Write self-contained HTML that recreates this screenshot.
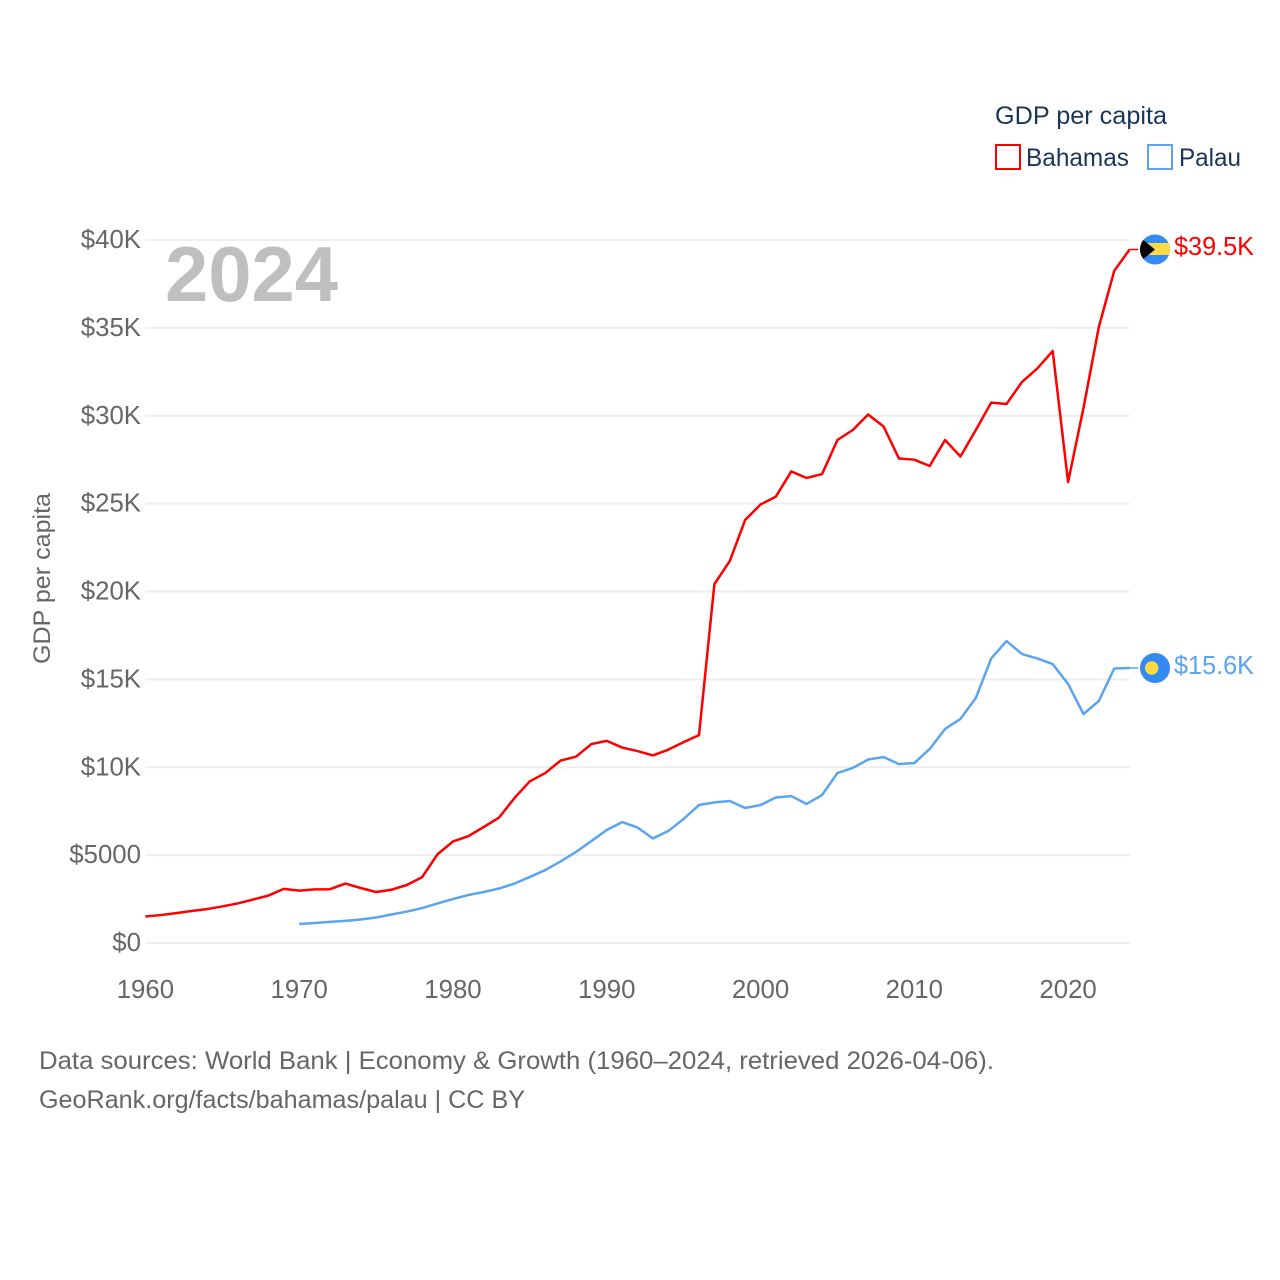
<!DOCTYPE html>
<html lang="en">
<head>
<meta charset="utf-8">
<title>GDP per capita: Bahamas and Palau</title>
<style>
html,body{margin:0;padding:0;background:#fff}
svg{display:block}
text{font-family:"Liberation Sans",sans-serif}
</style>
</head>
<body>
<svg id="chart" xmlns="http://www.w3.org/2000/svg" width="1280" height="1280" viewBox="0 0 1280 1280">
  <defs>
    <clipPath id="flag-clip-a"><circle cx="1155" cy="249.5" r="15"/></clipPath>
  </defs>
  <g id="grid"></g>
  <g id="y-ticks"></g>
  <g id="x-ticks"></g>
  <text transform="translate(50,664) rotate(-90)" font-size="24" fill="#666" textLength="171" lengthAdjust="spacingAndGlyphs">GDP per capita</text>
  <text x="165" y="301" font-size="78" font-weight="700" fill="#bfbfbf" textLength="173" lengthAdjust="spacingAndGlyphs">2024</text>

  <g>
    <text x="995" y="124" font-size="25" fill="#1a3557" textLength="172" lengthAdjust="spacingAndGlyphs">GDP per capita</text>
    <g>
      <rect x="996" y="145" width="24" height="24" fill="#fff" stroke="#ff0000" stroke-width="2"/>
      <text x="1026" y="166" font-size="25" fill="#1a3557" textLength="103" lengthAdjust="spacingAndGlyphs">Bahamas</text>
    </g>
    <g>
      <rect x="1148" y="145" width="24" height="24" fill="#fff" stroke="#5ba4ee" stroke-width="2"/>
      <text x="1179" y="166" font-size="25" fill="#1a3557" textLength="62" lengthAdjust="spacingAndGlyphs">Palau</text>
    </g>
  </g>

  <g id="series"></g>

  <g clip-path="url(#flag-clip-a)">
    <rect x="1140" y="234" width="30" height="31" fill="#338af3"/>
    <rect x="1140" y="243" width="30" height="12" fill="#ffda44"/>
    <polygon points="1136,234 1155,249.5 1136,265" fill="#000"/>
  </g>
  <text id="label-a" x="1174" y="255" font-size="25.5" fill="#ff0000" textLength="80" lengthAdjust="spacingAndGlyphs"></text>

  <g>
    <circle cx="1155" cy="668" r="15" fill="#338af3"/>
    <circle cx="1151.7" cy="668" r="6.7" fill="#ffda44"/>
  </g>
  <text id="label-b" x="1174" y="674" font-size="25.5" fill="#5ba4ee" textLength="80" lengthAdjust="spacingAndGlyphs"></text>

  <text x="39" y="1069" font-size="25" fill="#666" textLength="955" lengthAdjust="spacingAndGlyphs">Data sources: World Bank | Economy &amp; Growth (1960–2024, retrieved 2026-04-06).</text>
  <text x="39" y="1108" font-size="25" fill="#666" textLength="486" lengthAdjust="spacingAndGlyphs">GeoRank.org/facts/bahamas/palau | CC BY</text>
</svg>
<script>
const bahamasStartYear = 1960;
const palauStartYear = 1970;
const bahamasValues = [1.51,1.59,1.70,1.82,1.93,2.08,2.25,2.47,2.70,3.08,2.98,3.05,3.06,3.38,3.13,2.90,3.03,3.30,3.75,5.05,5.78,6.08,6.60,7.14,8.25,9.20,9.67,10.38,10.60,11.32,11.50,11.12,10.92,10.67,11.00,11.43,11.83,20.42,21.73,24.07,24.95,25.40,26.83,26.46,26.68,28.62,29.19,30.07,29.39,27.57,27.50,27.14,28.62,27.68,29.19,30.75,30.67,31.92,32.69,33.68,26.23,30.44,35.05,38.24,39.46];
const palauValues = [1.08,1.14,1.20,1.26,1.34,1.45,1.62,1.79,1.99,2.25,2.50,2.73,2.90,3.10,3.38,3.76,4.15,4.64,5.18,5.80,6.43,6.88,6.57,5.95,6.37,7.06,7.85,8.00,8.08,7.68,7.85,8.28,8.36,7.91,8.42,9.67,9.96,10.44,10.58,10.18,10.24,11.04,12.18,12.75,13.94,16.19,17.18,16.44,16.19,15.87,14.74,13.03,13.77,15.62,15.65];
const yTickValues = [0,5,10,15,20,25,30,35,40];
const yTickLabels = ["$0","$5000","$10K","$15K","$20K","$25K","$30K","$35K","$40K"];
const xTickYears = [1960,1970,1980,1990,2000,2010,2020];
const bahamasEndLabel = "$39.5K";
const palauEndLabel = "$15.6K";

const NS = "http://www.w3.org/2000/svg";
function xScale(year){ return 145.4 + (year - 1960) * (1129.6 - 145.4) / 64; }
function yScale(v){ return 943 - v * (943 - 240) / 40; }
function make(tag, attrs){
  const el = document.createElementNS(NS, tag);
  for (const k in attrs) el.setAttribute(k, attrs[k]);
  return el;
}
const grid = document.getElementById("grid");
const yTicks = document.getElementById("y-ticks");
const xTicks = document.getElementById("x-ticks");
const series = document.getElementById("series");

yTickValues.forEach(function(v, i){
  const line = make("line", {x1:xScale(1960), x2:xScale(2024), y1:yScale(v), y2:yScale(v), stroke:"#eeeeee", "stroke-width":2});
  
  
  grid.appendChild(line);
  const t = make("text", {x:141, y:yScale(v)+8, "text-anchor":"end", "font-size":25.8, fill:"#666"});
  
  
  t.textContent = yTickLabels[i];
  yTicks.appendChild(t);
});
xTickYears.forEach(function(y){
  const t = make("text", {x:xScale(y), y:998, "text-anchor":"middle", "font-size":25.8, fill:"#666"});
  
  
  t.textContent = String(y);
  xTicks.appendChild(t);
});
function seriesPoints(values, startYear){
  return values.map(function(v, i){ return xScale(startYear + i).toFixed(2) + "," + yScale(v).toFixed(2); }).join(" ");
}
const palauLine = make("polyline", {points:seriesPoints(palauValues, palauStartYear), fill:"none", stroke:"#5ba4ee", "stroke-width":2.5, "stroke-linejoin":"round"});


series.appendChild(palauLine);
const bahamasLine = make("polyline", {points:seriesPoints(bahamasValues, bahamasStartYear), fill:"none", stroke:"#ff0000", "stroke-width":2.5, "stroke-linejoin":"round"});


series.appendChild(bahamasLine);

const lastB = bahamasValues[bahamasValues.length - 1];
const lastP = palauValues[palauValues.length - 1];
const connB = make("line", {x1:xScale(2024), x2:1138, y1:yScale(lastB), y2:yScale(lastB), stroke:"#ff0000", "stroke-width":1.5});


series.appendChild(connB);
const connP = make("line", {x1:xScale(2024), x2:1138, y1:yScale(lastP), y2:yScale(lastP), stroke:"#5ba4ee", "stroke-width":1.5});


series.appendChild(connP);
document.getElementById("label-a").textContent = bahamasEndLabel;
document.getElementById("label-b").textContent = palauEndLabel;
</script>
</body>
</html>
